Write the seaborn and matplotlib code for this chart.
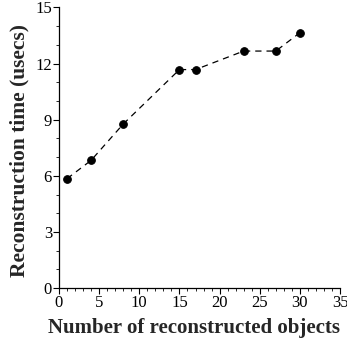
import matplotlib
matplotlib.use("Agg")
import matplotlib.pyplot as plt
import seaborn as sns
import pandas as pd
from matplotlib.ticker import MultipleLocator

objects = [1, 4, 8, 15, 17, 23, 27, 30]
times = [5.85, 6.83, 8.77, 11.68, 11.68, 12.67, 12.67, 13.65]

sns.set_style("ticks")
plt.rcParams['font.family'] = ['Liberation Serif', 'DejaVu Serif']

df = pd.DataFrame({"objects": objects, "times": times})

fig = plt.figure(figsize=(3.47, 3.39), dpi=100)
ax = fig.add_axes([0.170, 0.150, 0.810, 0.828])
sns.lineplot(data=df, x="objects", y="times", ax=ax, color="black",
             linestyle=(0, (5, 4)), linewidth=0.9, marker="o", markersize=5.5,
             markeredgecolor="black", markerfacecolor="black")

ax.set_xlim(0, 35)
ax.set_ylim(0, 15)
ax.xaxis.set_major_locator(MultipleLocator(5))
ax.xaxis.set_minor_locator(MultipleLocator(1))
ax.yaxis.set_major_locator(MultipleLocator(3))
ax.yaxis.set_minor_locator(MultipleLocator(1))
ax.tick_params(which="major", direction="out", length=4, width=0.8, labelsize=12, pad=1, colors="black")
ax.tick_params(which="minor", direction="out", length=2, width=0.7)
for s in ["top", "right"]:
    ax.spines[s].set_visible(False)
for s in ["left", "bottom"]:
    ax.spines[s].set_linewidth(0.9)
    ax.spines[s].set_color("black")

ax.set_xlabel("Number of reconstructed objects", fontsize=15, fontweight="bold")
ax.set_ylabel("Reconstruction time (usecs)", fontsize=15.5, fontweight="bold")
ax.xaxis.set_label_coords(0.48, -0.105)
ax.yaxis.set_label_coords(-0.105, 0.49)

fig.savefig("out.png", dpi=100)
